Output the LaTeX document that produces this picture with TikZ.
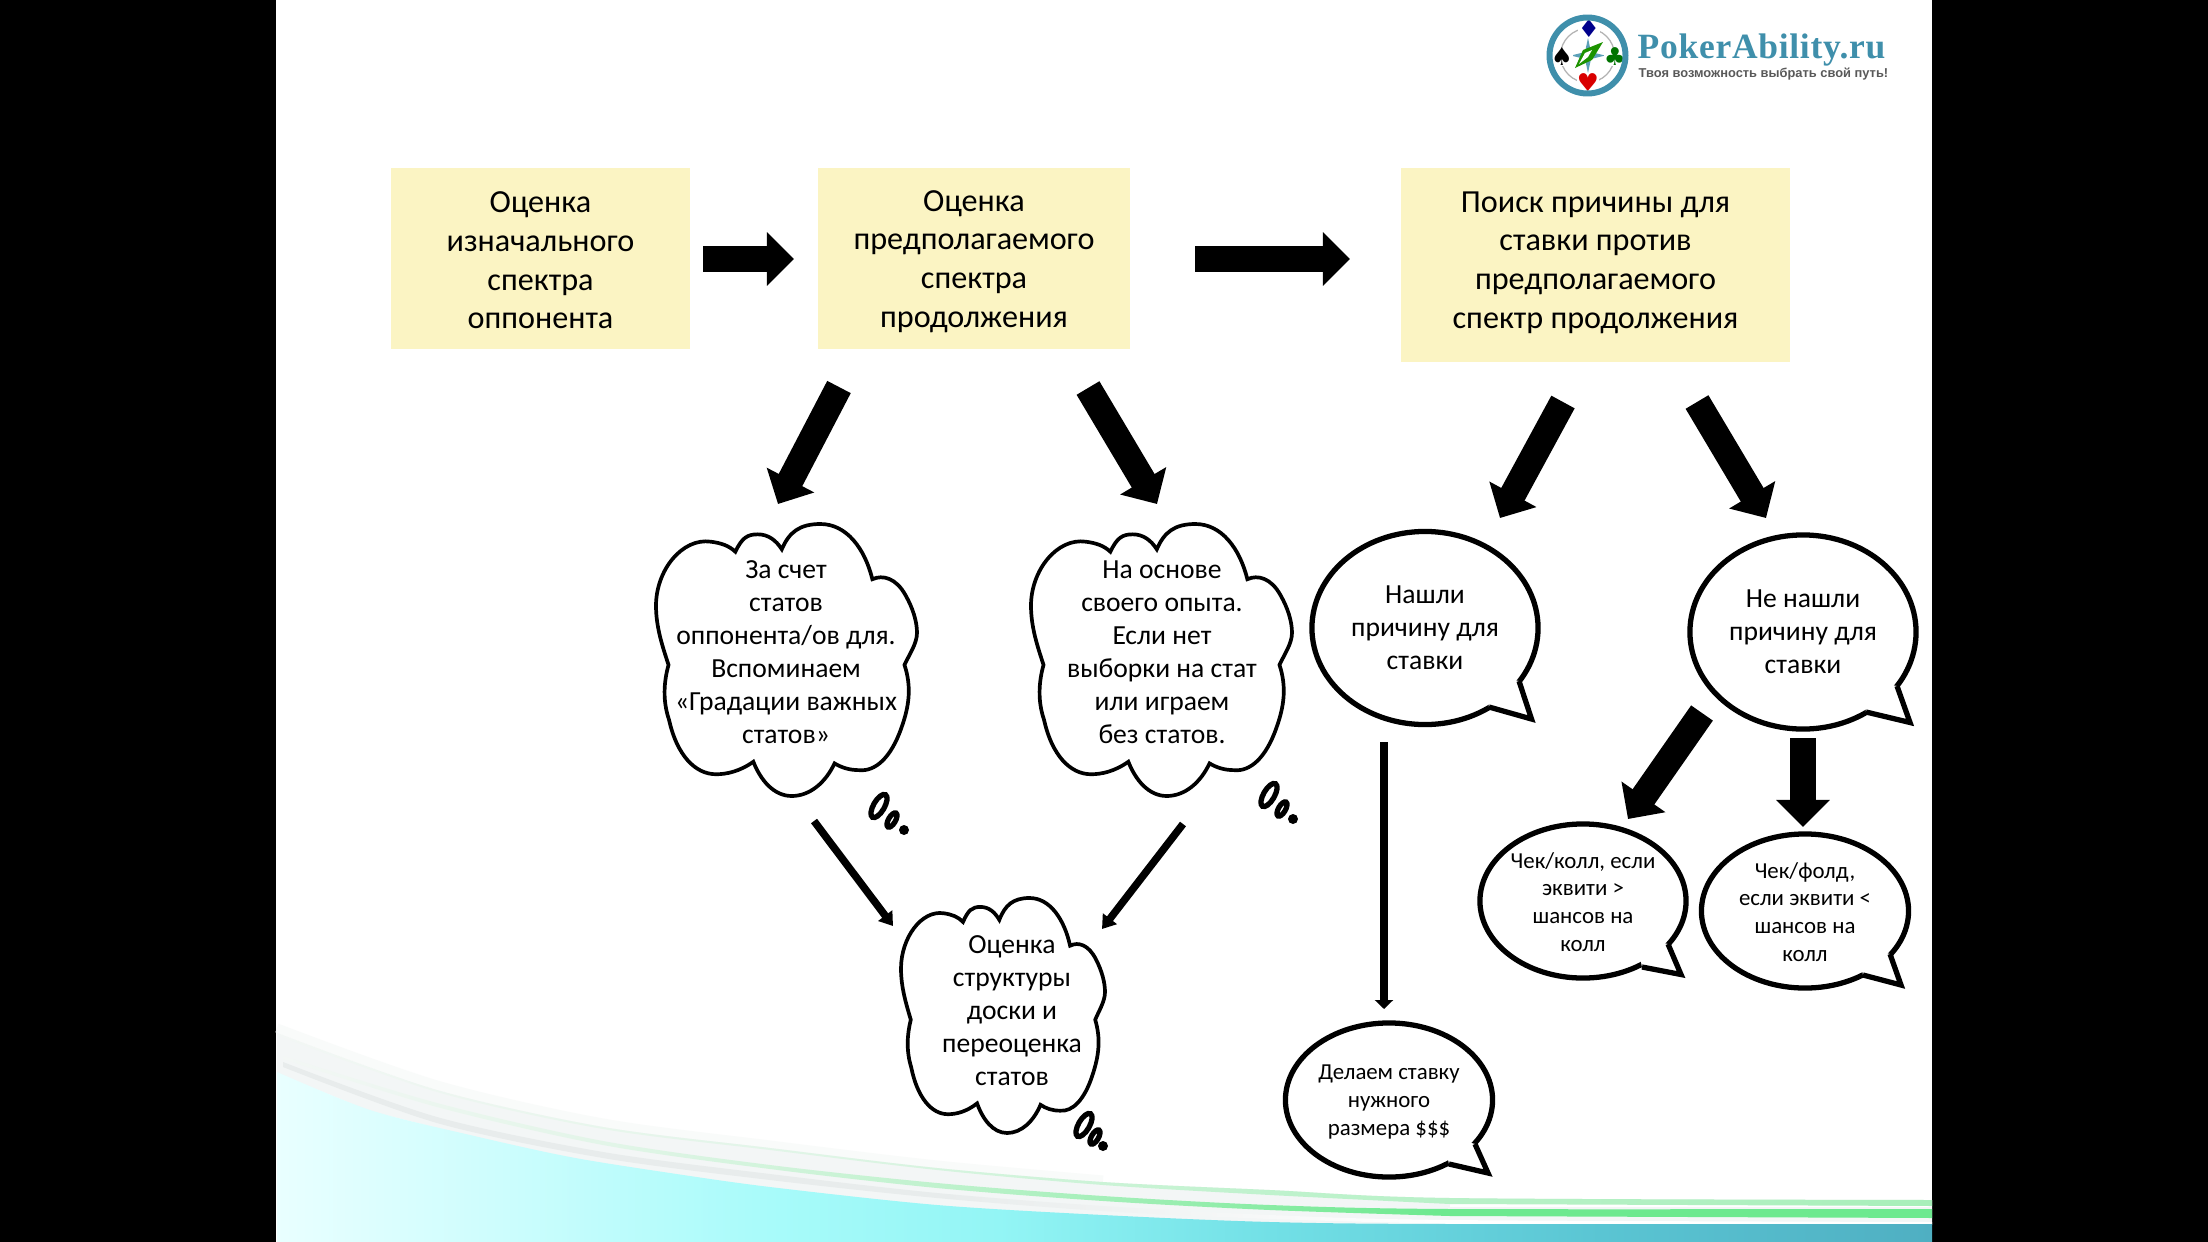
\documentclass[tikz,border=0pt]{standalone}
\usepackage{fontspec}
\setmainfont{Carlito}
\newfontfamily\logofont[LetterSpace=2]{Liberation Serif}
\newfontfamily\tagfont{Liberation Sans}
\newfontfamily\suitfont{DejaVu Sans}
\usetikzlibrary{arrows.meta,shapes.geometric,calc}
\definecolor{boxyellow}{HTML}{FBF4C3}
\definecolor{logoteal}{HTML}{3F8FAB}
\definecolor{wa}{HTML}{E9FFFF}
\definecolor{wb}{HTML}{CDFDFD}
\definecolor{wc}{HTML}{A8FBFA}
\definecolor{wd}{HTML}{93F5F5}
\definecolor{we}{HTML}{72E0E6}
\definecolor{wf}{HTML}{5AC5D3}
\definecolor{wg}{HTML}{4FAFC2}
\definecolor{bandgrey}{HTML}{F3F6F6}
\definecolor{bandfade}{HTML}{F9FBFA}
\definecolor{stripegrey}{HTML}{E8ECEC}
\definecolor{ga}{HTML}{F3F7F5}
\definecolor{gb}{HTML}{E2F5E8}
\definecolor{gc}{HTML}{BFF2CD}
\definecolor{gd}{HTML}{6DE98F}
\definecolor{ge}{HTML}{A8EFBA}
\pgfdeclarehorizontalshading{wavefill}{100bp}{color(0bp)=(wa); color(25bp)=(wa); color(31.7bp)=(wb); color(39.9bp)=(wc); color(46.8bp)=(wd); color(55bp)=(we); color(65bp)=(wf); color(75bp)=(wg); color(100bp)=(wg)}
\pgfdeclarehorizontalshading{midgreen}{100bp}{color(0bp)=(ga); color(25bp)=(ga); color(35bp)=(gb); color(45bp)=(gc); color(60bp)=(gd); color(75bp)=(gd); color(100bp)=(gd)}
\pgfdeclarehorizontalshading{topgreen}{100bp}{color(0bp)=(ga); color(25bp)=(ga); color(40bp)=(gb); color(55bp)=(gc); color(75bp)=(ge); color(100bp)=(ge)}
\pgfdeclarehorizontalshading{greystripe}{100bp}{color(0bp)=(stripegrey); color(25bp)=(stripegrey); color(45bp)=(stripegrey); color(60bp)=(white); color(100bp)=(white)}
\tikzset{
  x=0.01cm,y=-0.01cm,
  topbox/.style={fill=boxyellow,align=center,inner sep=0pt,font=\fontsize{9.15}{11}\selectfont},
  cloudtext/.style={align=center,inner sep=0pt,font=\fontsize{7.85}{9.4}\selectfont},
  speech/.style={ellipse,draw=black,fill=white,line width=1.5pt,inner sep=0pt,align=center},
  speechbig/.style={speech,font=\fontsize{7.85}{9.4}\selectfont},
  speechsmall/.style={speech,font=\fontsize{6.5}{7.9}\selectfont},
  tailline/.style={draw=black,line width=1.5pt,line join=miter},
  cloudline/.style={draw=black,fill=white,line width=1.05pt},
  bigarrow/.style={line width=0.265cm,-{Triangle[length=0.27cm,width=0.52cm]}},
  midarrow/.style={line width=0.085cm,-{Triangle[length=0.09cm,width=0.18cm]}},
  thinarrow/.style={line width=0.075cm,-{Triangle[length=0.13cm,width=0.17cm]}},
  bubbleo/.style={draw=black,fill=white,line width=1.5pt},
  suit/.style={inner sep=0pt,fill=white,font=\suitfont\fontsize{7}{8}\selectfont},
}
\newcommand{\cloudat}[4]{%
  \begin{scope}[shift={(#1,#2)},xscale=#3,yscale=#4]
  \path[cloudline] (4.8,51.8)
   .. controls (2.5,45) and (0,38) .. (0,30)
   .. controls (0,17) and (10,5) .. (21,6.5)
   .. controls (25,7) and (28,8) .. (30.4,10.2)
   .. controls (33,5) and (35,3.8) .. (39,3.8)
   .. controls (43,3.8) and (46,6) .. (48.2,9.3)
   .. controls (51,3) and (55,0) .. (63,0)
   .. controls (73,0) and (80,9) .. (82.9,20.3)
   .. controls (87,18.5) and (92,20) .. (95.5,26)
   .. controls (98.5,31) and (100,36) .. (100,40)
   .. controls (100,44) and (97,48) .. (95.2,51.8)
   .. controls (98,60) and (97,67) .. (94,75)
   .. controls (90,86) and (84,91) .. (78,90.5)
   .. controls (74,90.5) and (71,89.5) .. (68.4,88)
   .. controls (65,95) and (59,100) .. (52,100)
   .. controls (45,100) and (40,94) .. (37.3,87.4)
   .. controls (32,91) and (27,92) .. (23,92)
   .. controls (15,92) and (8,85) .. (5,72)
   .. controls (2.5,65) and (3,58) .. (4.8,51.8) -- cycle;
  \end{scope}}
\newcommand{\bubbletrail}[6]{%
  \path[bubbleo] (#1,#2) ellipse [x radius=5.5,y radius=13,rotate=-30];
  \path[bubbleo] (#3,#4) ellipse [x radius=3.5,y radius=8,rotate=-30];
  \fill[black] (#5,#6) circle [radius=5];}
\newcommand{\tailat}[6]{%
  \fill[white] (#1,#2) -- (#3,#4) -- (#5,#6) -- ($(#5,#6)!0.12!(#1,#2)+(-5,-6)$) -- ($(#1,#2)!0.12!(#5,#6)+(-6,-5)$) -- cycle;
  \draw[tailline] (#1,#2) -- (#3,#4) -- (#5,#6);}
\begin{document}
\begin{tikzpicture}
\useasboundingbox (0,0) rectangle (2208,1242);
\fill[black] (0,0) rectangle (2208,1242);
\fill[white] (276,0) rectangle (1932,1242);
% wave
\newcommand{\topedge}{(277,1033) (437,1090) (603,1127) (770,1148) (937,1168) (1103,1182) (1270,1190) (1450,1198) (1932,1200)}
\draw[bandfade,line width=0.09cm] plot[smooth] coordinates {(277,1028) (437,1085) (603,1123) (770,1145) (937,1165) (1103,1180)};
\path[fill=bandgrey] plot[smooth] coordinates {\topedge} -- (1932,1225) -- (1270,1223) -- (1103,1216) -- (937,1206) -- (770,1188) -- (670,1174) -- (570,1158) -- (470,1136) -- (370,1111) -- (277,1073) -- cycle;
\fill[white] (1450,1204) rectangle (1932,1207);
\shade[shading=topgreen] plot[smooth] coordinates {\topedge} -- (1932,1206) -- plot[smooth] coordinates {(1450,1204) (1270,1195) (1103,1185) (937,1170) (770,1150) (603,1129) (437,1092) (277,1035)} -- cycle;
\shade[shading=greystripe] plot[smooth] coordinates {(283,1062) (437,1117) (603,1152) (770,1174) (937,1193) (1103,1206) (1270,1215) (1450,1220) (1932,1222)} -- (1932,1224) -- plot[smooth] coordinates {(1450,1224) (1270,1219) (1103,1211) (937,1198) (770,1180) (603,1158) (437,1123) (283,1067)} -- cycle;
\shade[shading=midgreen] plot[smooth] coordinates {(283,1056) (437,1103) (603,1141) (770,1165) (937,1183) (1103,1196) (1270,1205) (1450,1209) (1932,1209)} -- (1932,1218) -- plot[smooth] coordinates {(1450,1216) (1270,1210) (1103,1201) (937,1188) (770,1169) (603,1145) (437,1107) (283,1059)} -- cycle;
\shade[shading=wavefill] plot[smooth] coordinates {(277,1072) (370,1110) (470,1135) (570,1157) (670,1173) (770,1187) (937,1205) (1103,1215) (1270,1222) (1450,1224) (1932,1224)} -- (1932,1242) -- (277,1242) -- cycle;
% logo
\draw[gray!60,line width=.35pt] (1587.5,55.5) circle [radius=27];
\fill[logoteal!85] (1588,38) -- (1591,52) -- (1605,55.5) -- (1591,59) -- (1588,73) -- (1585,59) -- (1571,55.5) -- (1585,52) -- cycle;
\fill[green!50!black!85!lime] (1575,68) -- (1583,50) -- (1603,42) -- (1592,60) -- cycle;
\fill[white] (1579,64) -- (1585,53) -- (1592,50) -- (1588,57) -- cycle;
\node[suit,text=blue!55!black] (suitd) at (1589,29) {♦};
\node[suit,text=black] (suits) at (1562,57) {♠};
\node[suit,text=green!45!black] (suitc) at (1615,57) {♣};
\node[suit,text=red!85!black] (suith) at (1588,83) {♥};
\draw[logoteal,line width=1.7pt] (1587.5,55.5) circle [radius=38];
\node[anchor=base west,inner sep=0pt,text=logoteal,font=\logofont\bfseries\fontsize{10.1}{12}\selectfont] (logotext) at (1637,58) {PokerAbility.ru};
\node[anchor=base west,inner sep=0pt,text=black!65,font=\tagfont\bfseries\fontsize{3.66}{5}\selectfont] (tagline) at (1638,77) {Твоя возможность выбрать свой путь!};
% top boxes
\node[topbox,minimum width=2.99cm,minimum height=1.81cm] (b1) at (540.5,258.5) {\rule{0pt}{7pt}Оценка\\изначального\\спектра\\оппонента};
\node[topbox,minimum width=3.12cm,minimum height=1.81cm] (b2) at (974,258.5) {\rule{0pt}{7.6pt}Оценка\\предполагаемого\\спектра\\продолжения};
\node[topbox,minimum width=3.89cm,minimum height=1.94cm] (b3) at (1595.5,265) {Поиск причины для\\ставки против\\предполагаемого\\спектр продолжения\rule[-3pt]{0pt}{0pt}};
% clouds
\cloudat{656}{524}{2.61}{2.72}
\cloudat{1031}{524}{2.61}{2.72}
\cloudat{901}{898}{2.04}{2.35}
\bubbletrail{879}{806}{892}{820}{904}{830}
\bubbletrail{1269}{795}{1282}{809}{1293}{819}
\bubbletrail{1084}{1125}{1095}{1137}{1103}{1146}
\node[cloudtext] (c1) at (786,652) {За счет\\статов\\оппонента/ов для.\\Вспоминаем\\«Градации важных\\статов»};
\node[cloudtext] (c2) at (1162,652) {На основе\\своего опыта.\\Если нет\\выборки на стат\\или играем\\без статов.};
\node[cloudtext] (c3) at (1012,1011) {Оценка\\структуры\\доски и\\переоценка\\статов};
% speech bubbles
\node[speechbig,minimum width=2.26cm,minimum height=1.93cm] (s1) at (1425,628) {Нашли\\причину для\\ставки};
\tailat{1519}{681}{1531.5}{719}{1489}{707}
\node[speechbig,minimum width=2.26cm,minimum height=1.94cm] (s2) at (1803,632) {Не нашли\\причину для\\ставки};
\tailat{1897}{686}{1910}{722.5}{1866}{712}
\node[speechsmall,minimum width=2.06cm,minimum height=1.54cm] (s3) at (1583,901) {\rule{0pt}{5pt}Чек/колл, если\\эквити >\\шансов на\\колл};
\tailat{1668}{944}{1681}{974.5}{1642}{967}
\node[speechsmall,minimum width=2.07cm,minimum height=1.54cm] (s4) at (1805,911) {\rule{0pt}{5pt}Чек/фолд,\\если эквити <\\шансов на\\колл};
\tailat{1890}{954}{1901}{985}{1863}{975}
\node[speechsmall,minimum width=2.07cm,minimum height=1.54cm] (s5) at (1389,1100) {\rule{0pt}{5.4pt}Делаем ставку\\нужного\\размера \$\$\$};
\tailat{1475}{1144}{1488}{1173}{1449}{1164}
% connector ends
\coordinate (a1s) at (703,259); \coordinate (a1e) at (794,259);
\coordinate (a2s) at (1195,259); \coordinate (a2e) at (1350,259);
\coordinate (a3s) at (839,387); \coordinate (a3e) at (778,504);
\coordinate (a4s) at (1088,388); \coordinate (a4e) at (1157,504);
\coordinate (a5s) at (1563,402); \coordinate (a5e) at (1500,518);
\coordinate (a6s) at (1697,402); \coordinate (a6e) at (1766,518);
\coordinate (a7s) at (1702,713); \coordinate (a7e) at (1628,819);
\coordinate (a8s) at (1803,738); \coordinate (a8e) at (1803,827);
\coordinate (a9s) at (1384,742); \coordinate (a9e) at (1384,1009);
\coordinate (a10s) at (814,821); \coordinate (a10e) at (893,926);
\coordinate (a11s) at (1183,824); \coordinate (a11e) at (1102,929);
\draw[bigarrow] (a1s) -- (a1e);
\draw[bigarrow] (a2s) -- (a2e);
\draw[bigarrow] (a3s) -- (a3e);
\draw[bigarrow] (a4s) -- (a4e);
\draw[bigarrow] (a5s) -- (a5e);
\draw[bigarrow] (a6s) -- (a6e);
\draw[bigarrow] (a7s) -- (a7e);
\draw[bigarrow] (a8s) -- (a8e);
\draw[midarrow] (a9s) -- (a9e);
\draw[thinarrow] (a10s) -- (a10e);
\draw[thinarrow] (a11s) -- (a11e);
\end{tikzpicture}
\end{document}
